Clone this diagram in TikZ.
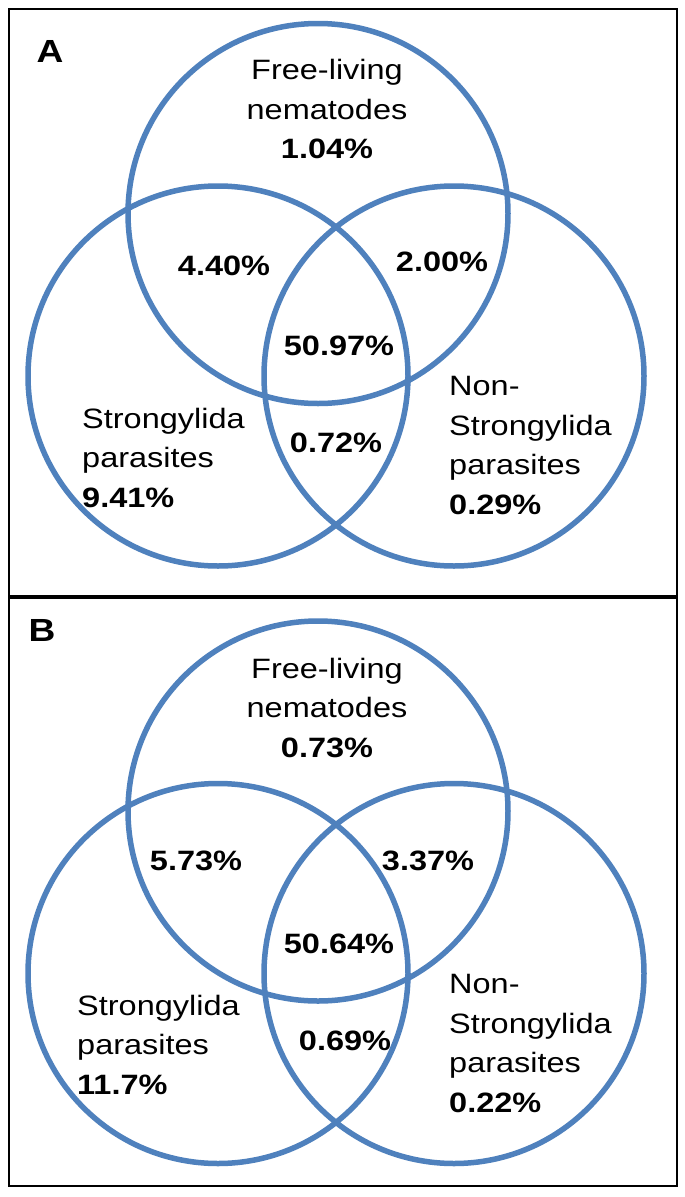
\documentclass[tikz,border=0pt]{standalone}
\usepackage{fontspec}
\setmainfont{Liberation Sans}[FakeStretch=1.16]
\usepackage{tikz}
\usetikzlibrary{positioning}
\definecolor{vennblue}{RGB}{79,129,189}

\begin{document}
\begin{tikzpicture}[
        x=1pt, y=-1pt,
        ring/.style={circle, draw=vennblue, line width=5.5pt, minimum size=380pt, inner sep=0pt},
        frame/.style={draw=black, line width=2pt},
        txt/.style={inner sep=0pt, font=\fontsize{28}{39.5}\selectfont},
        pct/.style={inner sep=0pt, font=\fontsize{28}{39.5}\selectfont\bfseries},
        panel/.style={inner sep=0pt, font=\fontsize{32}{36}\selectfont\bfseries}
    ]
        \useasboundingbox (0,0) rectangle (685,1197);
        \fill[white] (0,0) rectangle (685,1197);
        % panel frames
        \draw[frame] (9,9) rectangle (677,596);
        \draw[frame] (9,598) rectangle (677,1186);

        % panel A (multi-line texts sit on their last baseline)
        \node[ring] (freeA) at (318,213.5) {};
        \node[ring] (strA) at (218,376) {};
        \node[ring] (nonA) at (454,376) {};
        \node[panel, anchor=base] (labA) at (50,62) {A};
        \node[txt, align=center, anchor=base] (freetxtA) at (327,158.5) {Free-living\\nematodes\\\textbf{1.04\%}};
        \node[pct, anchor=base] (fsA) at (224,275) {4.40\%};
        \node[pct, anchor=base] (fnA) at (442,271.5) {2.00\%};
        \node[pct, anchor=base] (allA) at (339,355.5) {50.97\%};
        \node[pct, anchor=base] (snA) at (336,452) {0.72\%};
        \node[txt, align=left, anchor=base west] (strtxtA) at (82,507) {Strongylida\\parasites\\\textbf{9.41\%}};
        \node[txt, align=left, anchor=base west] (nontxtA) at (449,514) {Non-\\Strongylida\\parasites\\\textbf{0.29\%}};

        % panel B
        \node[ring] (freeB) at (318,811) {};
        \node[ring] (strB) at (218,973.5) {};
        \node[ring] (nonB) at (454,973.5) {};
        \node[panel, anchor=base] (labB) at (42,641) {B};
        \node[txt, align=center, anchor=base] (freetxtB) at (327,757) {Free-living\\nematodes\\\textbf{0.73\%}};
        \node[pct, anchor=base] (fsB) at (196,870) {5.73\%};
        \node[pct, anchor=base] (fnB) at (428,870) {3.37\%};
        \node[pct, anchor=base] (allB) at (339,953) {50.64\%};
        \node[pct, anchor=base] (snB) at (345,1050) {0.69\%};
        \node[txt, align=left, anchor=base west] (strtxtB) at (77,1094) {Strongylida\\parasites\\\textbf{11.7\%}};
        \node[txt, align=left, anchor=base west] (nontxtB) at (449,1112) {Non-\\Strongylida\\parasites\\\textbf{0.22\%}};
    \end{tikzpicture}
\end{document}
